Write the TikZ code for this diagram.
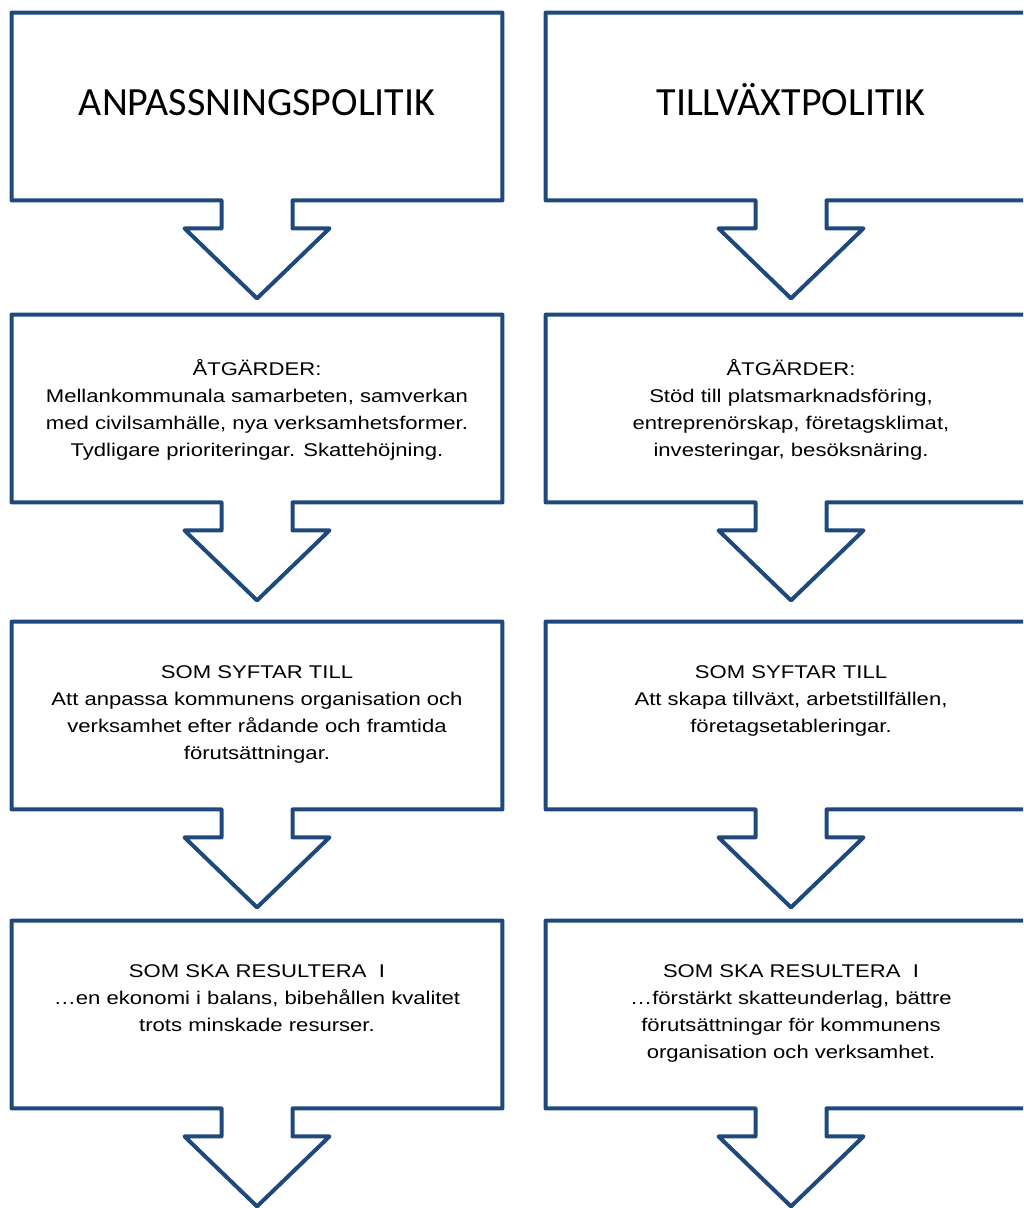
\documentclass[tikz,border=0pt]{standalone}
\usepackage{fontspec}
\setmainfont{Liberation Sans}
\newfontfamily\headfont{Carlito}
\newfontfamily\bodyfont[FakeStretch=1.2]{Liberation Sans}
\usetikzlibrary{calc}

\definecolor{boxblue}{RGB}{31,73,125}

\tikzset{
  frame/.style={minimum width=245pt, minimum height=93.5pt, inner sep=0pt},
  outline/.style={draw=boxblue, line width=2pt, line join=round},
  head/.style={font=\headfont\fontsize{20}{24}\selectfont, anchor=base},
  body/.style={font=\bodyfont\fontsize{9.2}{13.5}\selectfont, align=center, anchor=north, inner sep=0pt},
}

% box outline with the down arrow under it
\newcommand{\flowbox}[1]{%
  \draw[outline] ($(#1.south)+(-35.5,0)$) -- (#1.south west) -- (#1.north west) -- (#1.north east)
    -- (#1.south east) -- ($(#1.south)+(35.5,0)$) -- ++(0,28) -- ++(37,0)
    -- ($(#1.south)+(0,98)$) -- ++(-72.5,-70) -- ++(37,0) -- cycle;}

\begin{document}
\begin{tikzpicture}[x=0.5pt, y=-0.5pt]
        \useasboundingbox (0,0) rectangle (1023,1208);
        \clip (0,0) rectangle (1023,1208);

        % Left column
        \node[frame] (anp1) at (257,106.5) {};
        \node[frame] (anp2) at (257,408.5) {};
        \node[frame] (anp3) at (257,715.5) {};
        \node[frame] (anp4) at (257,1014.5) {};
        \flowbox{anp1} \flowbox{anp2} \flowbox{anp3} \flowbox{anp4}

        \node[head] (anp1t) at ($(anp1)+(0,9)$) {ANPASSNINGSPOLITIK};
        \node[body] (anp2t) at ($(anp2.north)+(0,44)$) {ÅTGÄRDER:\\
          Mellankommunala samarbeten, samverkan\\
          med civilsamhälle, nya verksamhetsformer.\\
          Tydligare prioriteringar. Skattehöjning.};
        \node[body] (anp3t) at ($(anp3.north)+(0,44)$) {SOM SYFTAR TILL\\
          Att anpassa kommunens organisation och\\
          verksamhet efter rådande och framtida\\
          förutsättningar.};
        \node[body] (anp4t) at ($(anp4.north)+(0,44)$) {SOM SKA RESULTERA\ \ I\\
          …en ekonomi i balans, bibehållen kvalitet\\
          trots minskade resurser.};

        % Right column
        \node[frame] (till1) at (791,106.5) {};
        \node[frame] (till2) at (791,408.5) {};
        \node[frame] (till3) at (791,715.5) {};
        \node[frame] (till4) at (791,1014.5) {};
        \flowbox{till1} \flowbox{till2} \flowbox{till3} \flowbox{till4}

        \node[head] (till1t) at ($(till1)+(0,9)$) {TILLVÄXTPOLITIK};
        \node[body] (till2t) at ($(till2.north)+(0,44)$) {ÅTGÄRDER:\\
          Stöd till platsmarknadsföring,\\
          entreprenörskap, företagsklimat,\\
          investeringar, besöksnäring.};
        \node[body] (till3t) at ($(till3.north)+(0,44)$) {SOM SYFTAR TILL\\
          Att skapa tillväxt, arbetstillfällen,\\
          företagsetableringar.};
        \node[body] (till4t) at ($(till4.north)+(0,44)$) {SOM SKA RESULTERA\ \ I\\
          …förstärkt skatteunderlag, bättre\\
          förutsättningar för kommunens\\
          organisation och verksamhet.};
    \end{tikzpicture}
\end{document}
